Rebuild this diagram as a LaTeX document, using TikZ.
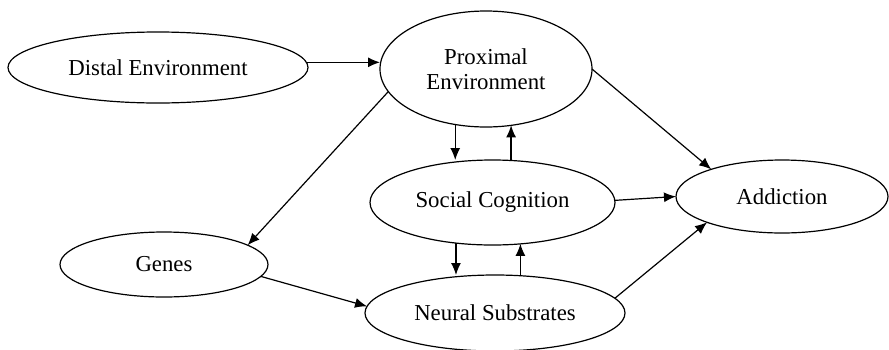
\documentclass[tikz,border=0pt]{standalone}
\usepackage{fontspec}
\setmainfont{Liberation Serif}
\usepackage{tikz}
\usetikzlibrary{arrows.meta,positioning,shapes.geometric}

\begin{document}
\begin{tikzpicture}[x=0.5pt,y=-0.5pt,
    oval/.style={ellipse, draw, line width=0.6pt, inner sep=0pt, outer sep=0pt,
      font=\fontsize{11.4}{12.5}\selectfont, align=center},
    arr/.style={-{Latex[length=6pt,width=5pt]}, line width=0.6pt}]
    \useasboundingbox (0,0) rectangle (889,349);
    % nodes
    \node[oval, minimum width=150pt, minimum height=35.5pt] (distal) at (158,67.5) {Distal Environment};
    \node[oval, minimum width=106pt, minimum height=58pt] (prox) at (486,69) {Proximal\\Environment};
    \node[oval, minimum width=122.5pt, minimum height=42.5pt] (soc) at (492.5,202.5) {Social Cognition};
    \node[oval, minimum width=104pt, minimum height=32.5pt] (genes) at (164,264.5) {Genes};
    \node[oval, minimum width=130pt, minimum height=38pt] (neural) at (495,313) {Neural Substrates};
    \node[oval, minimum width=106pt, minimum height=36.5pt] (addict) at (782,196.5) {Addiction};
    % connectors
    \draw[arr] (distal.2) -- (distal.2 -| prox.west);
    \draw[arr] (prox.193.75) -- (genes.13.4);
    \draw[arr] (prox.241.6) -- (prox.241.6 |- soc.north);
    \draw[arr] (prox.294.8 |- soc.north) -- (prox.294.8);
    \draw[arr] (soc.228) -- (soc.228 |- neural.north);
    \draw[arr] (soc.304.6 |- neural.north) -- (soc.304.6);
    \draw[arr] (prox.east) -- (addict.159.4);
    \draw[arr] (soc.1.5) -- (addict.180);
    \draw[arr] (neural.7) -- (addict.199.2);
    \draw[arr] (genes.353) -- (neural.177.2);
\end{tikzpicture}
\end{document}
